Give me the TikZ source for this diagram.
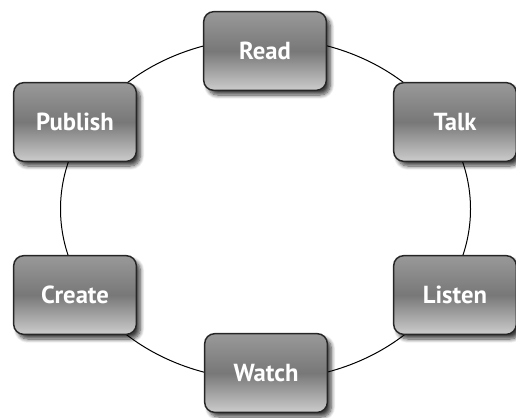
\documentclass[tikz,border=0pt]{standalone}
\usepackage{fontspec}
\newfontfamily\stagefont{PT Sans}
\usetikzlibrary{shadows.blur}

\begin{document}
\begin{tikzpicture}[x=0.75pt,y=-0.75pt,
    stage/.style={draw=black!85, line width=1.1pt, rounded corners=7.5pt,
      top color=black!40, bottom color=black!20, middle color=black!53,
      minimum width=92pt, minimum height=59pt, text=white,
      font=\stagefont\bfseries\fontsize{18.5}{22}\selectfont,
      blur shadow={shadow xshift=3pt, shadow yshift=-3.5pt,
        shadow blur radius=3pt, shadow blur steps=8, shadow opacity=75}}]
  \useasboundingbox (0,0) rectangle (516,417);
  % the ring behind the boxes
  \coordinate (hub) at (265.5,209);
  \draw[black, line width=0.75pt] (hub) ellipse [x radius=205, y radius=171];
  % the six boxes
  \foreach \nm/\x/\y/\txt in {read/265/51/Read, talk/455/122/Talk,
      listen/455/295/Listen, watch/266/373/Watch,
      create/75/295/Create, publish/75/122/Publish} {
    \node[stage] (\nm) at (\x,\y) {\txt};
  }
\end{tikzpicture}
\end{document}
